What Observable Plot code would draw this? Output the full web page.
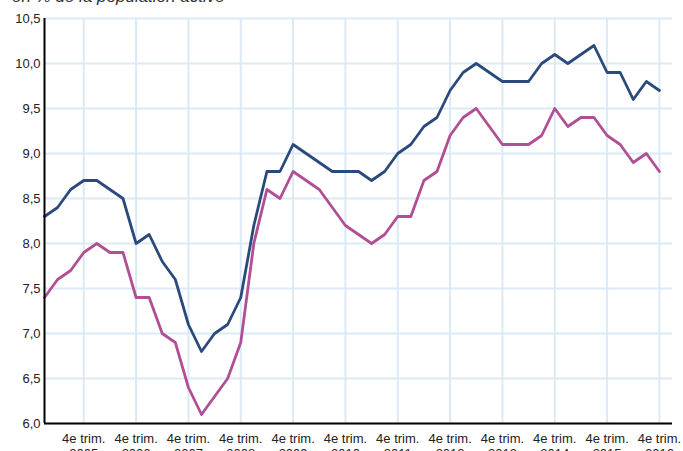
<!DOCTYPE html>
<html>
<head>
<meta charset="utf-8">
<script src="https://cdn.jsdelivr.net/npm/d3@7"></script>
<script src="https://cdn.jsdelivr.net/npm/@observablehq/plot@0.6"></script>
<style>
  html, body { margin: 0; padding: 0; background: #fff; overflow: hidden; }
  #wrap { position: relative; width: 683px; height: 451px; }
  #title { position: absolute; left: 12px; top: -12px; font: italic 17px/17px "Liberation Sans", Arial, sans-serif; color: #333; white-space: nowrap; }
  #chart { position: absolute; left: 0; top: 0; }
</style>
</head>
<body>
<div id="wrap">
  <div id="chart"></div>
  <div id="title">en % de la population active</div>
</div>
<script>
// Quarterly series, 1st quarter 2005 to 4th quarter 2016
const startYear = 2005;
const seriesA = [8.3,8.4,8.6,8.7,8.7,8.6,8.5,8.0,8.1,7.8,7.6,7.1,6.8,
                 7.0,7.1,7.4,8.2,8.8,8.8,9.1,9.0,8.9,8.8,8.8,8.8,
                 8.7,8.8,9.0,9.1,9.3,9.4,9.7,9.9,10.0,9.9,9.8,9.8,
                 9.8,10.0,10.1,10.0,10.1,10.2,9.9,9.9,9.6,9.8,9.7];
const seriesB = [7.4,7.6,7.7,7.9,8.0,7.9,7.9,7.4,7.4,7.0,6.9,6.4,6.1,
                 6.3,6.5,6.9,8.0,8.6,8.5,8.8,8.7,8.6,8.4,8.2,8.1,
                 8.0,8.1,8.3,8.3,8.7,8.8,9.2,9.4,9.5,9.3,9.1,9.1,
                 9.1,9.2,9.5,9.3,9.4,9.4,9.2,9.1,8.9,9.0,8.8];
const tickYears = [2005,2006,2007,2008,2009,2010,2011,2012,2013,2014,2015,2016];
const tickPrefix = "4e trim.";
const yTicks = [6.0,6.5,7.0,7.5,8.0,8.5,9.0,9.5,10.0,10.5];

const rowsA = seriesA.map((v, i) => ({q: i, v}));
const rowsB = seriesB.map((v, i) => ({q: i, v}));
const xTicks = tickYears.map(y => (y - startYear) * 4 + 3);

const font = '"Liberation Sans", Arial, sans-serif';
const chart = Plot.plot({
  width: 683,
  height: 451,
  marginLeft: 44,
  marginRight: 11,
  marginTop: 18,
  marginBottom: 28,
  style: {fontFamily: font, fontSize: "13px", color: "#222", background: "#fff"},
  x: {domain: [0, 48]},
  y: {domain: [6, 10.5]},
  marks: [
    Plot.gridY(yTicks, {stroke: "#dce9f6", strokeOpacity: 1, strokeWidth: 2}),
    Plot.gridX(xTicks, {stroke: "#dce9f6", strokeOpacity: 1, strokeWidth: 2}),
    Plot.axisY(yTicks, {tickSize: 0, tickPadding: 4, fontSize: 13, fill: "#222",
      tickFormat: d => d.toFixed(1).replace(".", ","), label: null}),
    Plot.axisX(xTicks, {tickSize: 0, tickPadding: 9, fontSize: 13, fill: "#222", lineHeight: 1.15,
      tickFormat: q => `${tickPrefix}\n${startYear + (q - 3) / 4}`, label: null}),
    Plot.line(rowsB, {x: "q", y: "v", stroke: "#b04f93", strokeWidth: 2.8}),
    Plot.line(rowsA, {x: "q", y: "v", stroke: "#2b4a7c", strokeWidth: 2.8}),
    Plot.ruleX([0], {stroke: "#000", strokeWidth: 2}),
    Plot.ruleY([6], {stroke: "#000", strokeWidth: 2})
  ]
});
document.getElementById("chart").appendChild(chart);
</script>
</body>
</html>
